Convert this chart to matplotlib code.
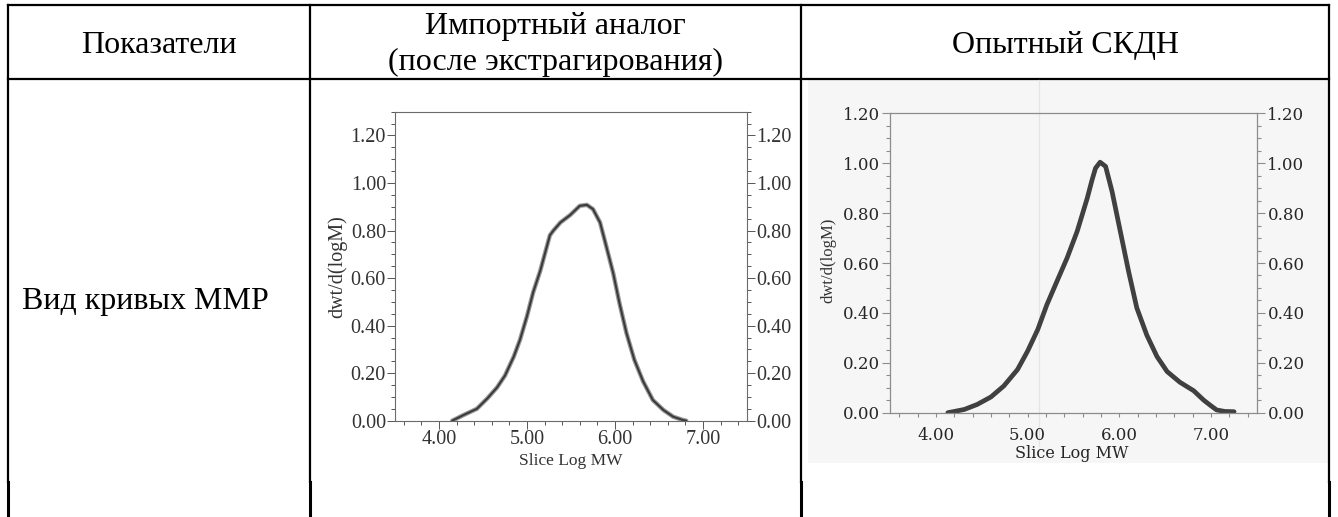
import numpy as np
import matplotlib
matplotlib.use("Agg")
import matplotlib.pyplot as plt
from matplotlib.ticker import MultipleLocator, FormatStrFormatter
from matplotlib.patches import Rectangle

# table text
col_headers = ["Показатели", "Импортный аналог\n(после экстрагирования)", "Опытный СКДН"]
row_label = "Вид кривых ММР"

# MWD curve, imported analogue (after extraction)
log_mw_import = [4.15, 4.28, 4.43, 4.55, 4.66, 4.75, 4.85, 4.92, 5.00, 5.07, 5.15, 5.26,
                 5.30, 5.38, 5.49, 5.60, 5.68, 5.75, 5.83, 5.90, 5.98, 6.05, 6.13, 6.22,
                 6.32, 6.43, 6.55, 6.66, 6.77, 6.81]
dwt_import = [0.0, 0.024, 0.05, 0.094, 0.14, 0.19, 0.27, 0.34, 0.44, 0.54, 0.63, 0.78,
              0.80, 0.834, 0.865, 0.904, 0.908, 0.89, 0.834, 0.735, 0.62, 0.496, 0.369, 0.256,
              0.165, 0.087, 0.045, 0.017, 0.003, 0.0]

# MWD curve, experimental SKDN
log_mw_skdn = [4.13, 4.20, 4.31, 4.45, 4.60, 4.74, 4.89, 5.00, 5.11, 5.21, 5.32, 5.43,
               5.54, 5.65, 5.70, 5.74, 5.79, 5.85, 5.92, 6.01, 6.10, 6.19, 6.30, 6.41,
               6.52, 6.66, 6.81, 6.92, 6.99, 7.06, 7.15, 7.25]
dwt_skdn = [0.0, 0.005, 0.013, 0.033, 0.063, 0.107, 0.173, 0.247, 0.333, 0.433, 0.527, 0.62,
            0.727, 0.86, 0.93, 0.98, 1.004, 0.987, 0.887, 0.727, 0.567, 0.42, 0.31, 0.225,
            0.165, 0.122, 0.088, 0.05, 0.03, 0.011, 0.005, 0.004]

W, H = 1338, 517
fig = plt.figure(figsize=(W / 100, H / 100), dpi=100)

# overlay in pixel units for the table grid
base = fig.add_axes([0, 0, 1, 1], zorder=0)
base.set_xlim(0, W)
base.set_ylim(H, 0)
base.axis("off")

tbl_font = dict(family="Liberation Serif", fontsize=23, color="black", va="baseline")

# light scan background behind the second chart
base.add_patch(Rectangle((808, 80), 521, 383, facecolor="#f6f6f6", edgecolor="none"))

lw_tbl = 1.6
base.plot([8, 1329], [5, 5], color="black", lw=lw_tbl)
base.plot([8, 1329], [79, 79], color="black", lw=lw_tbl)
for xv in [8, 310, 801, 1329]:
    base.plot([xv, xv], [5, 482], color="black", lw=lw_tbl)
    base.plot([xv, xv], [482, H], color="black", lw=2.2)

base.text(159, 53, col_headers[0], ha="center", **tbl_font)
line1, line2 = col_headers[1].split("\n")
base.text(555, 34, line1, ha="center", **tbl_font)
base.text(555, 70, line2, ha="center", **tbl_font)
base.text(1065, 53, col_headers[2], ha="center", **tbl_font)
base.text(22, 309, row_label, ha="left", **tbl_font)

# --- chart 1: imported analogue ---
ax1 = fig.add_axes([395 / W, 1 - 420.7 / H, 352 / W, 309 / H], zorder=1)
ax1.set_facecolor("none")
ax1.plot(log_mw_import, dwt_import, color="#9a9a9a", lw=3.2, solid_capstyle="round")
ax1.plot(log_mw_import, dwt_import, color="#3a3a3a", lw=1.5, solid_capstyle="round")
ax1.set_xlim(3.5, 7.5)
ax1.set_ylim(0, 1.30)
ax1.set_xticks([4, 5, 6, 7])
ax1.set_yticks(np.arange(0, 1.21, 0.2))
ax1.xaxis.set_minor_locator(MultipleLocator(0.2))
ax1.yaxis.set_minor_locator(MultipleLocator(0.05))
ax1.xaxis.set_major_formatter(FormatStrFormatter("%.2f"))
ax1.yaxis.set_major_formatter(FormatStrFormatter("%.2f"))
for s in ax1.spines.values():
    s.set_color("#6a6a6a")
    s.set_linewidth(0.8)
ax1.tick_params(which="both", direction="out", top=False, right=True, labelright=True,
                color="#555555", width=0.7, labelcolor="#333333")
ax1.tick_params(which="major", length=5.5, pad=1, labelsize=14.5)
ax1.tick_params(which="minor", length=3)
for lab in ax1.get_xticklabels() + ax1.get_yticklabels():
    lab.set_family("Liberation Serif")
ax1.set_ylabel("dwt/d(logM)", family="Liberation Serif", fontsize=14.5, color="#333333")
ax1.set_xlabel("Slice Log MW", family="Liberation Serif", fontsize=12.5, color="#333333")
ax1.yaxis.set_label_coords(-0.165, 0.5)
ax1.yaxis.label.set_va("center")
ax1.xaxis.set_label_coords(0.5, -0.13)
ax1.xaxis.label.set_va("center")

# --- chart 2: experimental SKDN ---
ax2 = fig.add_axes([890 / W, 1 - 412.7 / H, 367 / W, 299.4 / H], zorder=1)
ax2.set_facecolor("none")
ax2.axvline(5.12, ymin=-0.11, ymax=1.11, color="#e4e4e4", lw=0.9, clip_on=False, zorder=0)
ax2.plot(log_mw_skdn, dwt_skdn, color="#404040", lw=3.4, solid_capstyle="round")
ax2.set_xlim(3.5, 7.5)
ax2.set_ylim(0, 1.20)
ax2.set_xticks([4, 5, 6, 7])
ax2.set_yticks(np.arange(0, 1.21, 0.2))
ax2.xaxis.set_minor_locator(MultipleLocator(0.2))
ax2.yaxis.set_minor_locator(MultipleLocator(0.05))
ax2.xaxis.set_major_formatter(FormatStrFormatter("%.2f"))
ax2.yaxis.set_major_formatter(FormatStrFormatter("%.2f"))
for s in ax2.spines.values():
    s.set_color("#8c8c8c")
    s.set_linewidth(0.9)
ax2.tick_params(which="both", direction="out", top=False, right=True, labelright=True,
                color="#8c8c8c", width=0.8, labelcolor="#262626")
ax2.tick_params(which="major", length=5.5, pad=2, labelsize=12)
ax2.tick_params(which="minor", length=3)
ax2.tick_params(axis="x", which="major", length=3, pad=7)
for lab in ax2.get_xticklabels() + ax2.get_yticklabels():
    lab.set_family("DejaVu Serif")
ax2.set_ylabel("dwt/d(logM)", family="Liberation Serif", fontsize=12, color="#333333")
ax2.set_xlabel("Slice Log MW", family="DejaVu Serif", fontsize=11.5, color="#262626")
ax2.yaxis.set_label_coords(-0.169, 0.51)
ax2.yaxis.label.set_va("center")
ax2.xaxis.set_label_coords(0.495, -0.135)
ax2.xaxis.label.set_va("center")

fig.savefig("out.png", dpi=100)
